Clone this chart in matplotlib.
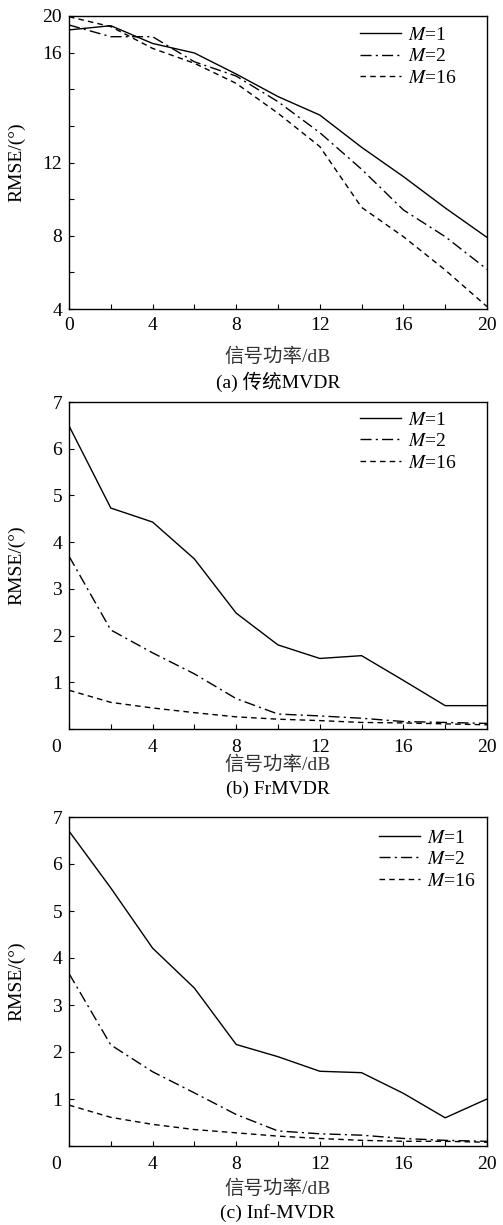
import matplotlib
matplotlib.use("Agg")
import matplotlib.pyplot as plt
import numpy as np

plt.rcParams['font.family'] = ['Liberation Serif', 'Noto Sans CJK SC']
plt.rcParams['mathtext.fontset'] = 'stix'
plt.rcParams['font.size'] = 14

snr = [0, 2, 4, 6, 8, 10, 12, 14, 16, 18, 20]
labels = ['$M$=1', '$M$=2', '$M$=16']

# (a) conventional MVDR
a_m1 = [19.24, 19.47, 18.50, 17.98, 16.83, 15.60, 14.59, 12.83, 11.23, 9.52, 7.91]
a_m2 = [19.51, 18.87, 18.87, 17.50, 16.72, 15.32, 13.63, 11.63, 9.41, 7.95, 6.17]
a_m16 = [19.96, 19.42, 18.23, 17.42, 16.32, 14.69, 12.87, 9.55, 7.95, 6.13, 4.13]

# (b) FrMVDR
b_m1 = [6.49, 4.73, 4.43, 3.64, 2.48, 1.80, 1.51, 1.57, 1.04, 0.50, 0.50]
b_m2 = [3.70, 2.12, 1.63, 1.18, 0.65, 0.32, 0.28, 0.23, 0.16, 0.14, 0.12]
b_m16 = [0.83, 0.57, 0.45, 0.35, 0.26, 0.21, 0.18, 0.14, 0.13, 0.11, 0.09]

# (c) Inf-MVDR
c_m1 = [6.70, 5.49, 4.21, 3.36, 2.16, 1.90, 1.59, 1.56, 1.12, 0.60, 1.00]
c_m2 = [3.67, 2.15, 1.58, 1.13, 0.67, 0.32, 0.26, 0.23, 0.16, 0.12, 0.10]
c_m16 = [0.87, 0.61, 0.46, 0.35, 0.28, 0.21, 0.16, 0.12, 0.10, 0.10, 0.08]

captions = ['(a) 传统MVDR', '(b) FrMVDR', '(c) Inf-MVDR']
xlabel = '信号功率/dB'
ylabel = 'RMSE/(°)'

styles = ['-', (0, (8, 3, 1.5, 3)), (0, (4, 3))]

W, H = 503, 1225
fig = plt.figure(figsize=(W / 100, H / 100), dpi=100)

# axes boxes in pixels: (top, bottom)
boxes = [(16, 309), (402, 729), (817, 1146)]
left_px, right_px = 69, 487
text_rows = [(357, 382), (765, 789), (1189, 1213)]
legend_pos = [(0.696, 0.965), (0.696, 0.972), (0.742, 0.963)]
series = [(a_m1, a_m2, a_m16), (b_m1, b_m2, b_m16), (c_m1, c_m2, c_m16)]

for i, (top, bot) in enumerate(boxes):
    ax = fig.add_axes([left_px / W, 1 - bot / H, (right_px - left_px) / W, (bot - top) / H])
    for ys, ls, lab in zip(series[i], styles, labels):
        ax.plot(snr, ys, color='black', linestyle=ls, linewidth=1.0, label=lab)
    ax.set_xlim(0, 20)
    ax.set_xticks([0, 4, 8, 12, 16, 20])
    ax.set_xticks([2, 6, 10, 14, 18], minor=True)
    if i == 0:
        ax.set_ylim(4, 20)
        yt = np.arange(4, 21, 2)
        ylab = {4: '4', 8: '8', 12: '12', 18: '16', 20: '20'}
        ax.set_yticks(yt)
        ax.set_yticklabels([ylab.get(int(v), '') for v in yt])
        ax.tick_params(axis='x', pad=6)
    else:
        ax.set_ylim(0, 7)
        ax.set_yticks(range(0, 8))
        ax.set_yticklabels([''] + [str(v) for v in range(1, 8)])
        ax.set_xticklabels(['', '4', '8', '12', '16', '20'])
        ax.annotate('0', xy=(0, 0), xycoords='data', xytext=(-9, -7),
                    textcoords='offset points', ha='center', va='top', fontsize=14)
        ax.tick_params(axis='x', pad=7)
    ax.tick_params(which='both', direction='in', length=3.5, width=0.8,
                   labelsize=14)
    ax.tick_params(axis='y', pad=5)
    for sp in ax.spines.values():
        sp.set_linewidth(1.0)
    ax.set_ylabel(ylabel, fontsize=14)
    ax.yaxis.set_label_coords(-0.105, 0.5)
    ax.legend(loc='upper left', bbox_to_anchor=legend_pos[i], frameon=False,
              fontsize=14, handlelength=2.1, handletextpad=0.35,
              labelspacing=0.2, borderpad=0, borderaxespad=0)
    xr, cr = text_rows[i]
    cx = (left_px + right_px) / 2 / W
    fig.text(cx, 1 - xr / H, xlabel, ha='center', va='center', fontsize=14, color='#333333')
    fig.text(cx, 1 - cr / H, captions[i], ha='center', va='center', fontsize=14)

fig.savefig('out.png', dpi=100)
